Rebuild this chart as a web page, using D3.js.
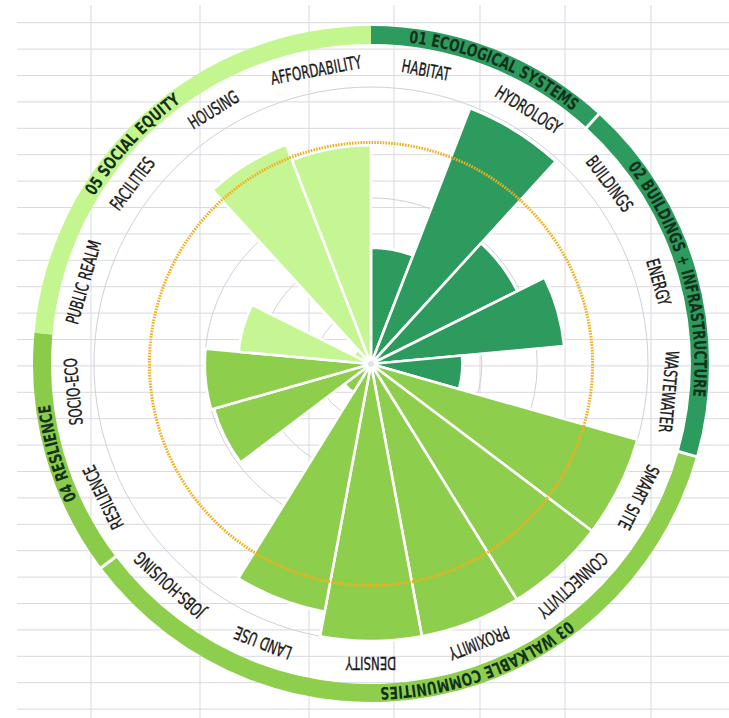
<!DOCTYPE html>
<html><head><meta charset="utf-8">
<script src="https://cdn.jsdelivr.net/npm/d3@7"></script>
<style>
html,body{margin:0;padding:0;background:#fff;}
svg{display:block;}
</style></head>
<body>
<svg id="chart" width="729" height="718"></svg>
<script>
// ---------------- data ----------------
const categories = ["HABITAT","HYDROLOGY","BUILDINGS","ENERGY","WASTEWATER","SMART SITE","CONNECTIVITY","PROXIMITY","DENSITY","LAND USE","JOBS-HOUSING","RESILIENCE","SOCIO-ECO","PUBLIC REALM","FACILITIES","HOUSING","AFFORDABILITY"];
const values = [42, 99, 59, 70, 33, 100, 100, 100, 100, 91, 12, 59, 60, 48, 7, 85, 79];
const categoryGroup = [0,0,1,1,1,2,2,2,2,2,2,3,3,4,4,4,4];
const groupNames = ["01 ECOLOGICAL SYSTEMS","02 BUILDINGS + INFRASTRUCTURE","03 WALKABLE COMMUNITIES","04 RESLIENCE","05 SOCIAL EQUITY"];
const gridTicks = [20, 40, 60, 100];
const targetValue = 80;

// ---------------- style / layout ----------------
const W = 729, H = 718, cx = 371, cy = 364;
const barColors  = ["#2d9a5e","#2d9a5e","#8dce4c","#8dce4c","#c6f693"];
const ringColors = ["#2d9a5e","#2d9a5e","#8dce4c","#8acb49","#c4f68f"];
const ringGapAfter = [true, true, true, false, false];
const groupLabelShiftDeg = [1.5, 0, -9, 0, -5];
const ringInner = 320, ringOuter = 338, ringTextR = 323.5, labelR = 299;
const fontFam = "'Liberation Sans Narrow','DejaVu Sans Condensed','Arial Narrow',sans-serif";

const svg = d3.select("#chart");
svg.append("rect").attr("width", W).attr("height", H).attr("fill", "#fff");

// background page grid
const bg = svg.append("g").attr("stroke", "#d9d9e0").attr("stroke-width", 1);
d3.range(27).forEach(i => {
  const y = 22.7 + 26.4 * i;
  bg.append("line").attr("x1", 17).attr("x2", W).attr("y1", y).attr("y2", y);
});
[91, 200, 309, 394, 480, 565, 651].forEach(x => {
  bg.append("line").attr("x1", x).attr("x2", x).attr("y1", 5).attr("y2", H);
});

const g = svg.append("g").attr("transform", `translate(${cx},${cy})`);
const angle = d3.scaleBand().domain(categories).range([0, 2 * Math.PI]).padding(0);
const r = d3.scaleLinear().domain([0, 100]).range([0, 277]);

const data = categories.map((c, i) => ({cat: c, value: values[i], group: categoryGroup[i]}));

// grid circles
g.selectAll("circle.grid").data(gridTicks).join("circle")
  .attr("class", "grid").attr("r", d => r(d))
  .attr("fill", "none").attr("stroke", "#d0d0d8").attr("stroke-width", 1);

// bars
const arc = d3.arc().innerRadius(0)
  .outerRadius(d => r(d.value))
  .startAngle(d => angle(d.cat))
  .endAngle(d => angle(d.cat) + angle.bandwidth());
g.selectAll("path.bar").data(data).join("path")
  .attr("class", "bar").attr("d", arc)
  .attr("fill", d => barColors[d.group])
  .attr("stroke", "#fff").attr("stroke-width", 2.6).attr("stroke-linejoin", "round");

g.append("circle").attr("r", 3).attr("fill", "#e4e4e4");

// target circle (dotted orange)
g.append("circle").attr("r", r(targetValue)).attr("fill", "none")
  .attr("stroke", "#f2b01e").attr("stroke-width", 3).attr("stroke-dasharray", "1.6 1.2");

// category labels
const labels = g.selectAll("g.lab").data(data).join("g").attr("class", "lab")
  .attr("transform", d => {
    const a = (angle(d.cat) + angle.bandwidth() / 2) * 180 / Math.PI;
    return `rotate(${a}) translate(0,${-labelR})`;
  });
const labText = labels.append("text").text(d => d.cat)
  .attr("text-anchor", "middle").attr("dominant-baseline", "central")
  .attr("font-family", fontFam).attr("font-size", 18).attr("fill", "#1a1a1a")
  .attr("stroke", "#1a1a1a").attr("stroke-width", 0.35);
// calibrate condensed width
const sample = labText.filter(d => d.cat === "AFFORDABILITY").node();
const k = 92 / sample.getComputedTextLength();
labText.attr("transform", `scale(${k},1)`);

// group ring
const groups = groupNames.map((name, gi) => {
  const cats = categories.filter((c, i) => categoryGroup[i] === gi);
  return {name, gi, start: angle(cats[0]), end: angle(cats[cats.length - 1]) + angle.bandwidth()};
});
const ringArc = d3.arc().innerRadius(ringInner).outerRadius(ringOuter)
  .startAngle(d => d.start).endAngle(d => d.end);
g.selectAll("path.ring").data(groups).join("path").attr("class", "ring")
  .attr("d", ringArc).attr("fill", d => ringColors[d.gi]);
// gaps
groups.forEach(d => {
  if (!ringGapAfter[d.gi]) return;
  const a = d.end;
  g.append("line")
    .attr("x1", (ringInner - 3) * Math.sin(a)).attr("y1", -(ringInner - 3) * Math.cos(a))
    .attr("x2", (ringOuter + 3) * Math.sin(a)).attr("y2", -(ringOuter + 3) * Math.cos(a))
    .attr("stroke", "#fff").attr("stroke-width", 3);
});

// group label paths (clockwise arcs through the ring)
const defs = svg.append("defs");
groups.forEach(d => {
  const R = ringTextR, a0 = d.start, a1 = d.end;
  const large = (a1 - a0) > Math.PI ? 1 : 0;
  defs.append("path").attr("id", "gp" + d.gi)
    .attr("d", `M${R * Math.sin(a0)},${-R * Math.cos(a0)} A${R},${R} 0 ${large} 1 ${R * Math.sin(a1)},${-R * Math.cos(a1)}`);
});
const gText = g.selectAll("text.grp").data(groups).join("text").attr("class", "grp")
  .attr("font-family", fontFam).attr("font-weight", "bold").attr("font-size", 17)
  .attr("fill", "#13301b");
const tp = gText.append("textPath").attr("href", d => "#gp" + d.gi)
  .attr("startOffset", d => {
    const mid = (d.start + d.end) / 2 + groupLabelShiftDeg[d.gi] * Math.PI / 180;
    return (100 * (mid - d.start) / (d.end - d.start)) + "%";
  })
  .attr("text-anchor", "middle").text(d => d.name);
const gs = tp.filter(d => d.gi === 0).node();
const k2 = 180 / gs.getComputedTextLength();
tp.each(function () {
  const w = this.getComputedTextLength();
  d3.select(this).attr("textLength", w * k2).attr("lengthAdjust", "spacingAndGlyphs");
});
</script>
</body></html>
